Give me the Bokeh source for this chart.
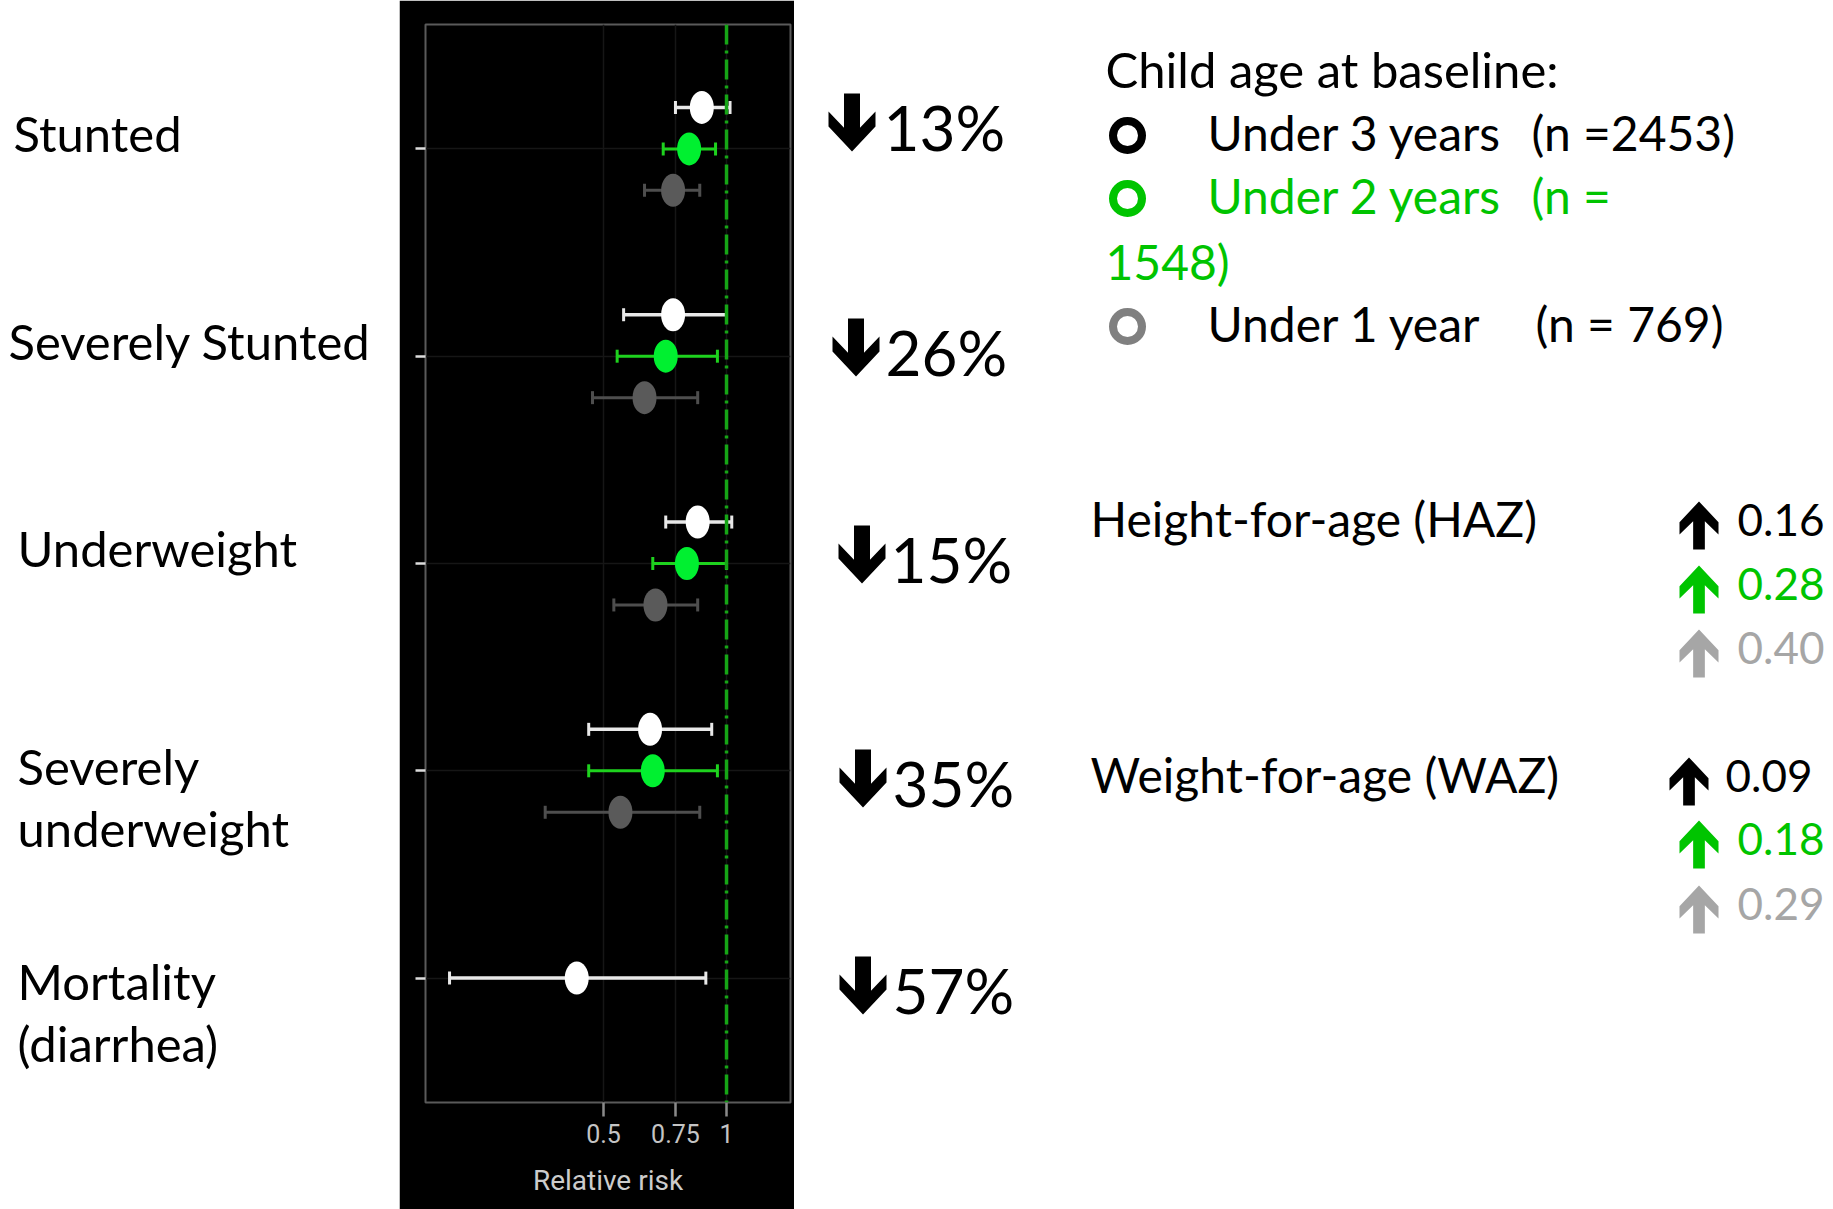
from bokeh.plotting import figure
from bokeh.layouts import row
from bokeh.models import Range1d, FixedTicker, Span, Whisker, TeeHead, ColumnDataSource
from bokeh.embed import file_html
from bokeh.resources import INLINE
from bokeh.core.properties import value

# ---------------- data ----------------
categories = ["Stunted", "Severely Stunted", "Underweight", "Severely underweight", "Mortality (diarrhea)"]
cat_lines = [["Stunted"], ["Severely Stunted"], ["Underweight"], ["Severely", "underweight"], ["Mortality", "(diarrhea)"]]
groups = ["Under 3 years", "Under 2 years", "Under 1 year"]
group_n = ["(n =2453)", "(n = 1548)", "(n = 769)"]

# relative risk and 95% CI, by age group at baseline
rr_u3 = [0.87, 0.74, 0.85, 0.65, 0.43]
lo_u3 = [0.75, 0.56, 0.71, 0.46, 0.21]
hi_u3 = [1.02, 1.00, 1.03, 0.92, 0.89]
rr_u2 = [0.81, 0.71, 0.80, 0.66]
lo_u2 = [0.70, 0.54, 0.66, 0.46]
hi_u2 = [0.94, 0.95, 1.00, 0.95]
rr_u1 = [0.74, 0.63, 0.67, 0.55]
lo_u1 = [0.63, 0.47, 0.53, 0.36]
hi_u1 = [0.86, 0.85, 0.85, 0.86]

reduction = ["13%", "26%", "15%", "35%", "57%"]
haz_change = ["0.16", "0.28", "0.40"]
waz_change = ["0.09", "0.18", "0.29"]
x_ticks = [0.5, 0.75, 1]

# ---------------- styles ----------------
FONT = "Lato"
AXFONT = "Roboto"
grp_marker = ["#ffffff", "#00f030", "#5a5a5a"]
grp_bar = ["#e8e8e8", "#1ed21e", "#4e4e4e"]
grp_text = ["#000000", "#00c400", "#000000"]
grp_ring = ["#000000", "#00c400", "#808080"]
delta_col = ["#000000", "#00c400", "#a6a6a6"]

H = 1209
FRAME_TOP, FRAME_BOTTOM = 24, 1102   # frames of a row are aligned to the forest plot's frame
BASE_SHIFT = 0.41                     # text anchor correction (fraction of font size)
n_cat = len(categories)
y_cat = [n_cat - i for i in range(n_cat)]
offsets = [0.2, 0.0, -0.2]
n_groups_per_cat = [sum(1 for s in (rr_u3, rr_u2, rr_u1) if i < len(s)) for i in range(n_cat)]

# ---------------- middle forest plot ----------------
mid = figure(width=395, height=H, x_axis_type="log", title=None,
             x_range=Range1d(0.1834, 1.434), y_range=Range1d(0.4, n_cat + 0.6),
             min_border_left=26, min_border_right=4, min_border_top=FRAME_TOP,
             min_border_bottom=H - FRAME_BOTTOM,
             background_fill_color="black", border_fill_color="black",
             outline_line_color="#5a5a5a", outline_line_width=2,
             output_backend="svg", toolbar_location=None)

mid.xgrid.ticker = FixedTicker(ticks=x_ticks)
mid.ygrid.ticker = FixedTicker(ticks=y_cat)
mid.grid.grid_line_color = "#161616"
mid.grid.grid_line_width = 1.5

mid.xaxis.ticker = FixedTicker(ticks=x_ticks)
mid.xaxis.major_label_overrides = {0.5: "0.5", 0.75: "0.75", 1: "1"}
mid.xaxis.axis_line_color = None
mid.xaxis.minor_tick_line_color = None
mid.xaxis.major_tick_in = 0
mid.xaxis.major_tick_out = 14
mid.xaxis.major_tick_line_color = "#8a8a8a"
mid.xaxis.major_tick_line_width = 2.5
mid.xaxis.major_label_text_font = AXFONT
mid.xaxis.major_label_text_font_size = "25px"
mid.xaxis.major_label_text_color = "#c4c4c4"
mid.xaxis.major_label_standoff = 7
mid.xaxis.axis_label = "Relative risk"
mid.xaxis.axis_label_text_font = AXFONT
mid.xaxis.axis_label_text_font_size = "28px"
mid.xaxis.axis_label_text_font_style = "normal"
mid.xaxis.axis_label_text_color = "#cccccc"
mid.xaxis.axis_label_standoff = 18

mid.yaxis.ticker = FixedTicker(ticks=y_cat)
mid.yaxis.major_label_overrides = {y: "" for y in y_cat}
mid.yaxis.major_label_standoff = 0
mid.yaxis.axis_line_color = None
mid.yaxis.minor_tick_line_color = None
mid.yaxis.major_tick_in = 0
mid.yaxis.major_tick_out = 10
mid.yaxis.major_tick_line_color = "#dddddd"
mid.yaxis.major_tick_line_width = 2.5

series = [(rr_u3, lo_u3, hi_u3), (rr_u2, lo_u2, hi_u2), (rr_u1, lo_u1, hi_u1)]
sources = []
for gi, (rr, lo, hi) in enumerate(series):
    ys = [y_cat[i] + (offsets[gi] if n_groups_per_cat[i] > 1 else 0.0) for i in range(len(rr))]
    src = ColumnDataSource(dict(y=ys, rr=rr, lo=lo, hi=hi, cat=categories[:len(rr)]))
    sources.append(src)
    w = Whisker(source=src, base="y", lower="lo", upper="hi", dimension="width",
                line_color=grp_bar[gi], line_width=3.5 if gi == 0 else 3,
                upper_head=TeeHead(size=13, line_color=grp_bar[gi], line_width=3),
                lower_head=TeeHead(size=13, line_color=grp_bar[gi], line_width=3))
    mid.add_layout(w)

mid.add_layout(Span(location=1, dimension="height", line_color="#16a516",
                    line_width=3.5, line_dash="20 6 3 6"))

for gi, src in enumerate(sources):
    mid.ellipse(x="rr", y="y", width=24, height=33, width_units="screen", height_units="screen",
                fill_color=grp_marker[gi], line_color=None, source=src)

# ---------------- helpers ----------------
def arrow_poly(left, top, w, h, down=True, shaft=0.34):
    a, b = 0.5 - shaft / 2, 0.5 + shaft / 2
    shape = [(a, 0), (b, 0), (b, 0.59), (1, 0.31), (1, 0.57), (0.5, 1), (0, 0.57), (0, 0.31), (a, 0.59)]
    xs = [left + sx * w for sx, sy in shape]
    ys = [top + (sy if down else 1 - sy) * h for sx, sy in shape]
    return xs, ys

def blank(width, x0):
    # page-pixel coordinates; the frame spans the same rows as the forest plot frame
    f = figure(width=width, height=H, x_range=Range1d(x0, x0 + width),
               y_range=Range1d(FRAME_BOTTOM, FRAME_TOP),
               title=None, x_axis_location=None, y_axis_location=None,
               min_border_left=0, min_border_right=0, min_border_top=FRAME_TOP,
               min_border_bottom=H - FRAME_BOTTOM,
               background_fill_color="white", border_fill_color="white",
               outline_line_color=None, output_backend="svg", toolbar_location=None)
    f.grid.visible = False
    return f

def put_text(fig, xs, bases, texts, size, color):
    fig.text(x=xs, y=[b - BASE_SHIFT * size for b in bases], text=texts,
             text_font=value(FONT), text_font_size=f"{size}px", text_color=color,
             text_baseline="alphabetic", text_align="left")

# ---------------- left: category labels ----------------
left = blank(399, 0)
lab_x = [13, 8, 17, 17, 17]
lab_base = [153, 361, 568, 786, 1001]
LINE = 62
tx, ty, tt = [], [], []
for i, lines in enumerate(cat_lines):
    for k, s in enumerate(lines):
        tx.append(lab_x[i]); ty.append(lab_base[i] + k * LINE); tt.append(s)
put_text(left, tx, ty, tt, 49, "black")

# ---------------- right: reductions, legend, HAZ/WAZ ----------------
right = blank(1039, 794)

red_arrow_x = [828, 832, 838, 839, 839]
red_text_x = [883, 885, 890, 892, 892]
red_base = [152, 377, 584, 808, 1015]
axs, ays = [], []
for i in range(len(reduction)):
    xs, ys = arrow_poly(red_arrow_x[i], red_base[i] - 59, 47, 58, down=True)
    axs.append(xs); ays.append(ys)
right.patches(axs, ays, fill_color="black", line_color=None)
put_text(right, red_text_x, red_base, reduction, 62, "black")

# legend
put_text(right, [1105], [89], ["Child age at baseline:"], 49, "black")
leg_base = [152, 215, 343]
right.scatter(x=[1127] * 3, y=[b - 17 for b in leg_base], size=29, marker="circle",
              fill_color=None, line_color=grp_ring, line_width=8)
put_text(right, [1207] * 3, leg_base, groups, 48, grp_text)
n_first = [group_n[0], "(n =", group_n[2]]
n_wrap = group_n[1].replace("(n = ", "")
put_text(right, [1531, 1531, 1535], leg_base, n_first, 48, grp_text)
put_text(right, [1105], [281], [n_wrap], 48, grp_text[1])

# HAZ / WAZ
put_text(right, [1090, 1090], [538, 794], ["Height-for-age (HAZ)", "Weight-for-age (WAZ)"], 48, "black")
haz_base = [538, 602, 666]
waz_base = [794, 857, 922]
d_arrow_x = [1679, 1679, 1679, 1669, 1679, 1679]
d_text_x = [1737, 1737, 1737, 1725, 1737, 1737]
d_base = haz_base + waz_base
d_text = haz_change + waz_change
d_cols = delta_col + delta_col
uxs, uys = [], []
for i in range(len(d_text)):
    xs, ys = arrow_poly(d_arrow_x[i], d_base[i] - 37, 39, 48, down=False, shaft=0.3)
    uxs.append(xs); uys.append(ys)
right.patches(uxs, uys, fill_color=d_cols, line_color=None)
put_text(right, d_text_x, d_base, d_text, 44, d_cols)

layout = row(left, mid, right, spacing=0)
open("out.html", "w").write(file_html(layout, INLINE))
